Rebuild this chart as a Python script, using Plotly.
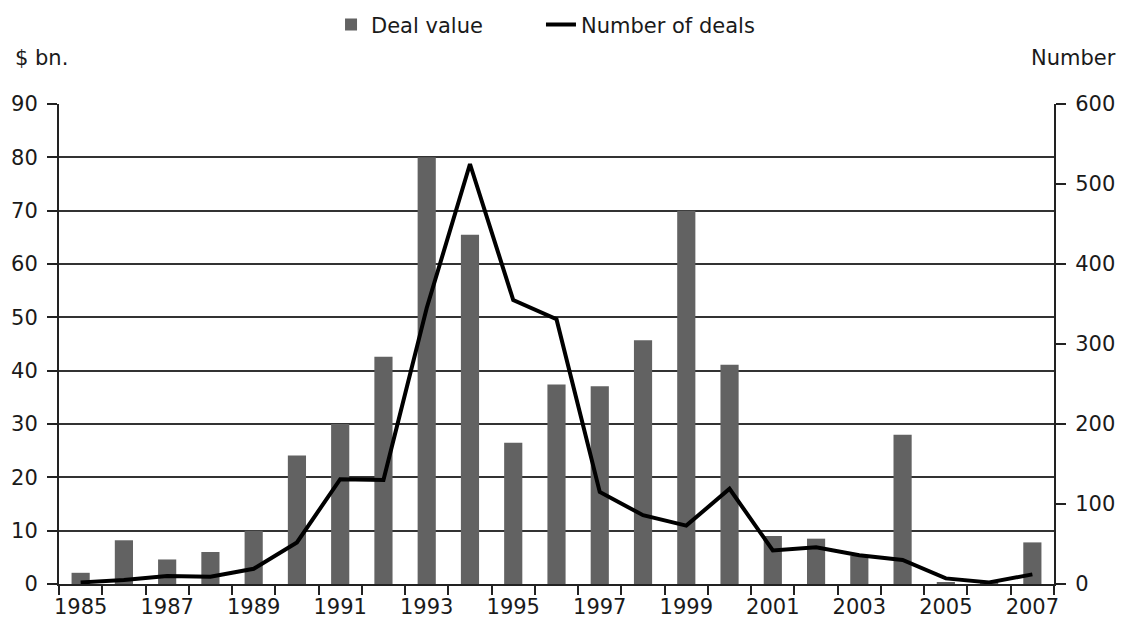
import plotly.graph_objects as go

years = list(range(1985, 2008))
deal_value = [2.1, 8.2, 4.6, 6.0, 10.0, 24.1, 30.0, 42.6, 80.0, 65.5, 26.5, 37.4,
              37.1, 45.7, 70.0, 41.1, 9.0, 8.5, 5.3, 28.0, 0.3, 0.2, 7.8]
num_deals = [2, 5, 10, 9, 19, 52, 131, 130, 345, 525, 355, 331,
             115, 86, 73, 119, 42, 46, 36, 30, 7, 2, 12]
tick_years = list(range(1985, 2008, 2))
left_ticks = list(range(0, 91, 10))
right_ticks = list(range(0, 601, 100))

FONT = "DejaVu Sans, sans-serif"
TXT = "#1a1a1a"
FS = 21

fig = go.Figure()
fig.add_trace(go.Bar(x=years, y=deal_value, name="Deal value", width=0.42,
                     marker=dict(color="#626262", line=dict(width=0)), yaxis="y",
                     legend="legend"))
fig.add_trace(go.Scatter(x=years, y=num_deals, name="Number of deals", mode="lines",
                         line=dict(color="#000000", width=4), yaxis="y2",
                         legend="legend2"))

leg_common = dict(orientation="h", yanchor="middle", y=1.165, xanchor="left",
                  font=dict(size=FS, color=TXT), itemwidth=30,
                  bgcolor="rgba(0,0,0,0)", borderwidth=0)

fig.update_layout(
    width=1121, height=620,
    margin=dict(l=59, r=67, t=104, b=36, autoexpand=False),
    paper_bgcolor="white", plot_bgcolor="white",
    font=dict(family=FONT, size=FS, color=TXT),
    showlegend=True,
    legend=dict(x=0.2734, **leg_common),
    legend2=dict(x=0.4844, **leg_common),
    xaxis=dict(range=[1984.5, 2007.5], tickmode="array", tickvals=tick_years,
               ticktext=[str(y) for y in tick_years], automargin=False,
               ticks="outside", ticklen=3, tickcolor="rgba(0,0,0,0)",
               showgrid=False, zeroline=False, showline=True, linecolor="#222", linewidth=2,
               minor=dict(tick0=1984.5, dtick=1, ticks="outside", ticklen=9,
                          tickwidth=2, tickcolor="#222", showgrid=False),
               tickfont=dict(size=FS, color=TXT)),
    yaxis=dict(range=[0, 90], tickmode="array", tickvals=left_ticks, automargin=False,
               ticks="outside", ticklen=10, tickwidth=2, tickcolor="#222",
               ticklabelstandoff=5,
               showgrid=True, gridcolor="#333", gridwidth=2,
               zeroline=False, showline=True, linecolor="#222", linewidth=2,
               tickfont=dict(size=FS, color=TXT)),
    yaxis2=dict(range=[0, 600], tickmode="array", tickvals=right_ticks, overlaying="y", side="right",
                automargin=False,
                ticks="outside", ticklen=10, tickwidth=2, tickcolor="#222",
                ticklabelstandoff=5,
                showgrid=False, zeroline=False, showline=True, linecolor="#222", linewidth=2,
                tickfont=dict(size=FS, color=TXT)),
    annotations=[
        dict(text="$ bn.", xref="paper", yref="paper", x=-0.046, y=1.096,
             xanchor="left", yanchor="middle", showarrow=False, font=dict(size=FS, color=TXT)),
        dict(text="Number", xref="paper", yref="paper", x=1.0643, y=1.096,
             xanchor="right", yanchor="middle", showarrow=False, font=dict(size=FS, color=TXT)),
    ],
)

# remove the browser's default 8px body margin so the figure fills the window exactly
fig.write_html("out.html", config={"displayModeBar": False},
               post_script="document.body.style.margin='0';document.body.style.overflow='hidden';")
